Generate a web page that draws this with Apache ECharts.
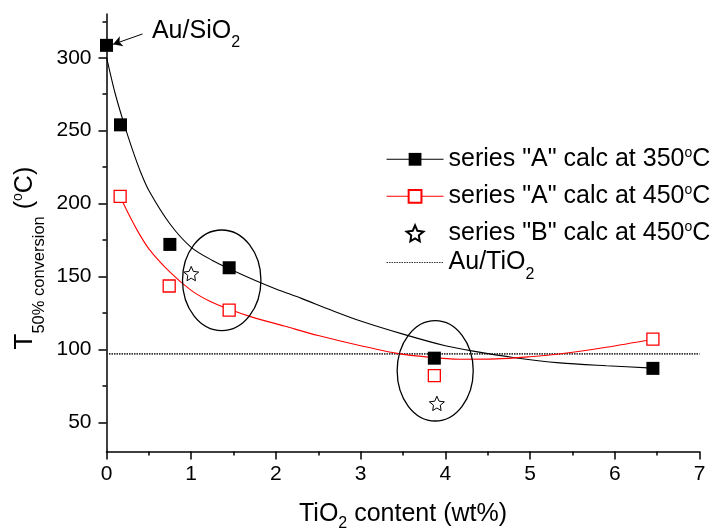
<!DOCTYPE html>
<html><head><meta charset="utf-8">
<script src="https://cdn.jsdelivr.net/npm/echarts@6/dist/echarts.min.js"></script>
<style>html,body{margin:0;padding:0;background:#fff}#c{width:717px;height:531px}</style>
</head><body><div id="c"></div>
<script>
const FONT = '"Liberation Sans", Arial, Helvetica, sans-serif';

// ---- tick labels ----
const xTickLabels = [0, 1, 2, 3, 4, 5, 6, 7];
const yTickLabels = [50, 100, 150, 200, 250, 300];
const yMinorTicks = [75, 125, 175, 225, 275, 325];

// ---- series names ----
const nameA350 = 'series "A" calc at 350°C';
const nameA450 = 'series "A" calc at 450°C';
const nameB450 = 'series "B" calc at 450°C';
const nameAuTiO2 = 'Au/TiO2';

// ---- measured points ----
const a350X = [0, 0.165, 0.748, 1.448, 3.87, 6.45];
const a350Y = [308.5, 254, 172, 156, 94, 87];
const a450X = [0.161, 0.74, 1.448, 3.87, 6.45];
const a450Y = [205, 143.5, 127, 82, 107];
const b450X = [1.0, 3.9];
const b450Y = [152, 63];

// ---- fitted curves ----
const fit350X = [0, 0.1, 0.2, 0.3, 0.4, 0.5, 0.75, 1.0, 1.25, 1.5, 1.75, 2.0, 2.3, 2.65, 3.0, 3.5, 4.0, 4.33, 4.8, 5.35, 5.9, 6.45];
const fit350Y = [300.5, 276, 256, 238, 222, 209, 186, 170, 161, 154, 147.5, 141.5, 135, 127, 119.5, 110.5, 102.5, 98.8, 94.5, 90.8, 88.8, 87.2];
const fit450X = [0.16, 0.2, 0.35, 0.5, 0.75, 1.0, 1.22, 1.45, 1.7, 2.1, 2.5, 3.0, 3.43, 3.8, 4.17, 4.6, 5.0, 5.36, 5.9, 6.45];
const fit450Y = [206, 200, 183, 169, 153, 140.5, 133, 127.5, 122.5, 116, 109.5, 102.5, 97.3, 94.7, 93.3, 93.5, 95, 97, 101.5, 107];

// ---- reference line Au/TiO2 ----
const auTiO2X = [0, 7];
const auTiO2Y = [97, 97];

// ---- annotations (data units) ----
const ellipseCX = [1.36, 3.88];
const ellipseCY = [147.4, 85.3];
const ellipseRX = [0.463, 0.449];
const ellipseRY = [34.5, 34.4];
const arrowFrom = [0.425, 316.3];
const arrowTo = [0.078, 309.2];

// ---- titles ----
const xTitle = '{m|TiO}{s|2}{m| content (wt%)}';
const yTitle = '{t|T}{s|50% conversion}{m| (}{sup|o}{m|C)}';

const zip = (xs, ys) => xs.map((x, i) => [x, ys[i]]);

const legendText = {};
legendText[nameA350] = '{m|series "A" calc at 350}{sup|o}{m|C}';
legendText[nameA450] = '{m|series "A" calc at 450}{sup|o}{m|C}';
legendText[nameB450] = '{m|series "B" calc at 450}{sup|o}{m|C}';
legendText[nameAuTiO2] = '{m|Au/TiO}{sub|2}';

const STAR = 'path://M12,1 L15.09,8.26 L23,9.27 L17,14.14 L18.18,22 L12,18.27 L5.82,22 L7,14.14 L1,9.27 L8.91,8.26 Z';

const chart = echarts.init(document.getElementById('c'), null, {renderer: 'canvas'});

const legendBase = {
  orient: 'vertical',
  left: 386,
  padding: 0,
  itemWidth: 57,
  itemHeight: 16,
  selectedMode: false,
  lineStyle: {width: 1.1},
  formatter: n => legendText[n]
};

const option = {
  animation: false,
  textStyle: {fontFamily: FONT},
  grid: {left: 106.5, right: 17.5, top: 14, bottom: 79.5, containLabel: false, outerBoundsMode: 'none'},
  graphic: [
    {
      type: 'text',
      silent: true,
      rotation: Math.PI / 2,
      x: 48.3,
      y: 349.5,
      style: {
        text: yTitle,
        align: 'left',
        verticalAlign: 'bottom',
        fill: '#000',
        fontFamily: FONT,
        fontSize: 25,
        rich: {
          t: {fontSize: 26, lineHeight: 46, fontFamily: FONT, fill: '#000'},
          m: {fontSize: 25, lineHeight: 46, fontFamily: FONT, fill: '#000'},
          s: {fontSize: 16.5, lineHeight: 18, verticalAlign: 'bottom', fontFamily: FONT, fill: '#000'},
          sup: {fontSize: 14, lineHeight: 14, verticalAlign: 'top', padding: [9, 0, 0, 0], fontFamily: FONT, fill: '#000'}
        }
      }
    }
  ],
  legend: [
    Object.assign({}, legendBase, {
      top: 146.3,
      itemGap: 11.5,
      data: [nameA350, nameA450, nameB450],
      textStyle: {
        color: '#000',
        rich: {
          m: {fontSize: 25, lineHeight: 26, fontFamily: FONT, color: '#000'},
          sup: {fontSize: 14, lineHeight: 10, verticalAlign: 'top', fontFamily: FONT, color: '#000'}
        }
      }
    }),
    Object.assign({}, legendBase, {
      top: 250,
      data: [{name: nameAuTiO2, itemStyle: {color: 'rgba(0,0,0,0)', borderColor: 'rgba(0,0,0,0)', borderWidth: 0, opacity: 0}}],
      textStyle: {
        color: '#000',
        rich: {
          m: {fontSize: 25, lineHeight: 41, fontFamily: FONT, color: '#000'},
          sub: {fontSize: 16, lineHeight: 16, verticalAlign: 'bottom', fontFamily: FONT, color: '#000'}
        }
      }
    })
  ],
  xAxis: {
    type: 'value',
    min: xTickLabels[0],
    max: xTickLabels[xTickLabels.length - 1],
    interval: 1,
    axisLine: {show: true, onZero: false, lineStyle: {color: '#000', width: 1.5}},
    axisTick: {show: true, inside: false, length: 8, lineStyle: {color: '#000', width: 1.5}},
    minorTick: {show: true, splitNumber: 2, length: 4, lineStyle: {color: '#000', width: 1.5}},
    axisLabel: {fontSize: 21, color: '#000', margin: 12, fontFamily: FONT},
    splitLine: {show: false},
    minorSplitLine: {show: false},
    name: xTitle,
    nameLocation: 'middle',
    nameGap: 46,
    nameTextStyle: {
      rich: {
        m: {fontSize: 25, lineHeight: 34, fontFamily: FONT, color: '#000'},
        s: {fontSize: 16, lineHeight: 16, verticalAlign: 'bottom', fontFamily: FONT, color: '#000'}
      }
    }
  },
  yAxis: [
    {
      type: 'value',
      position: 'left',
      min: 30,
      max: 330,
      axisLine: {show: true, onZero: false, lineStyle: {color: '#000', width: 1.5}},
      axisTick: {show: true, inside: false, length: 8, customValues: yTickLabels, lineStyle: {color: '#000', width: 1.5}},
      axisLabel: {fontSize: 21, color: '#000', margin: 15, customValues: yTickLabels, fontFamily: FONT},
      splitLine: {show: false}
    },
    {
      type: 'value',
      position: 'left',
      min: 30,
      max: 330,
      axisLine: {show: false},
      axisTick: {show: true, inside: false, length: 4, customValues: yMinorTicks, lineStyle: {color: '#000', width: 1.5}},
      axisLabel: {show: false},
      splitLine: {show: false}
    }
  ],
  series: [
    {
      name: nameA350, type: 'line', data: zip(fit350X, fit350Y),
      smooth: 0.3, showSymbol: false, symbol: 'rect', silent: true, z: 2,
      lineStyle: {color: '#000', width: 1.1}, itemStyle: {color: '#000'}
    },
    {
      name: nameA450, type: 'line', data: zip(fit450X, fit450Y),
      smooth: 0.3, showSymbol: false, symbol: 'emptyRect', silent: true, z: 2,
      lineStyle: {color: '#ff0000', width: 1.1}, itemStyle: {color: '#ff0000'}
    },
    {
      name: nameB450, type: 'scatter', data: zip(b450X, b450Y),
      symbol: STAR, symbolSize: 15, symbolKeepAspect: true, z: 4,
      itemStyle: {color: '#fff', borderColor: '#000', borderWidth: 1, opacity: 1}
    },
    {
      name: nameAuTiO2, type: 'line', data: zip(auTiO2X, auTiO2Y),
      symbol: 'none', silent: true, z: 1,
      lineStyle: {color: '#333', width: 1.8, type: [1.5, 1]}, itemStyle: {color: '#333'}
    },
    {
      name: nameA350, type: 'scatter', data: zip(a350X, a350Y),
      symbol: 'rect', symbolSize: 13, z: 5,
      itemStyle: {color: '#000', opacity: 1},
      markLine: {
        silent: true,
        symbol: ['none', 'arrow'],
        symbolSize: [8, 9],
        lineStyle: {color: '#000', width: 1, type: 'solid', opacity: 1},
        label: {
          show: true, position: 'start', distance: 10,
          formatter: '{m|Au/SiO}{s|2}',
          rich: {
            m: {fontSize: 25, lineHeight: 40, fontFamily: FONT, color: '#000'},
            s: {fontSize: 16, lineHeight: 16, verticalAlign: 'bottom', fontFamily: FONT, color: '#000'}
          }
        },
        data: [[{coord: arrowFrom}, {coord: arrowTo}]]
      }
    },
    {
      name: nameA450, type: 'scatter', data: zip(a450X, a450Y),
      symbol: 'rect', symbolSize: 12, z: 5,
      itemStyle: {color: '#fff', borderColor: '#ff0000', borderWidth: 1.3, opacity: 1}
    },
    {
      name: 'ellipses', type: 'custom', silent: true, z: 3,
      data: ellipseCX.map((cx, i) => [cx, ellipseCY[i], ellipseRX[i], ellipseRY[i]]),
      renderItem: function (params, api) {
        const c = api.coord([api.value(0), api.value(1)]);
        const s = api.size([api.value(2), api.value(3)]);
        return {
          type: 'ellipse',
          shape: {cx: c[0], cy: c[1], rx: s[0], ry: s[1]},
          style: {fill: 'none', stroke: '#000', lineWidth: 1.3}
        };
      }
    }
  ]
};
chart.setOption(option);
</script>
</body></html>
